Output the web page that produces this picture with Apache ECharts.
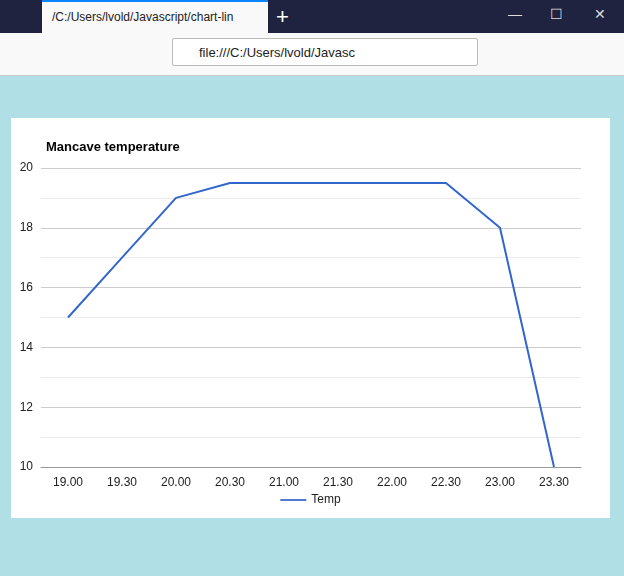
<html lang="en">
<head>
    <meta charset="UTF-8">
    <title>chart-line</title>
    <style>
        body { margin: 0; width: 624px; height: 576px; background: #b0dfe5; font-family: "Liberation Sans", Arial, sans-serif; position: relative; overflow: hidden; }
        #tabs { position: absolute; left: 0; top: 0; width: 624px; height: 33px; background: #202340; }
        #tab { position: absolute; left: 42px; top: 0; width: 226px; height: 33px; background: #f9f9fa; border-top: 2px solid #0a84ff; box-sizing: border-box; font-size: 12px; color: #222; line-height: 30px; padding-left: 10px; white-space: nowrap; overflow: hidden; }
        #plus { position: absolute; left: 276px; top: 4px; color: #fff; font-size: 22px; }
        .win { position: absolute; top: 6px; color: #ddd; font-size: 14px; }
        #toolbar { position: absolute; left: 0; top: 33px; width: 624px; height: 42px; background: #f9f9fa; border-bottom: 1px solid #ccc; }
        #url { position: absolute; left: 172px; top: 5px; width: 306px; height: 28px; border: 1px solid #bbb; border-radius: 2px; background: #fff; font-size: 13px; line-height: 28px; padding-left: 26px; box-sizing: border-box; color: #222; white-space: nowrap; overflow: hidden; }
        #panel { position: absolute; left: 11px; top: 118px; width: 599px; height: 400px; background: #fff; }
        #echart { width: 599px; height: 400px; }
    </style>
</head>
<body>
    <div id="tabs">
        <div id="tab">/C:/Users/lvold/Javascript/chart-lin</div>
        <div id="plus">+</div>
        <div class="win" style="left:508px">&#8212;</div>
        <div class="win" style="left:550px">&#9744;</div>
        <div class="win" style="left:594px">&#10005;</div>
    </div>
    <div id="toolbar">
        <div id="url">file:///C:/Users/lvold/Javasc</div>
    </div>
    <div id="panel"><div id="echart"></div></div>
    <script src="https://cdn.jsdelivr.net/npm/echarts@6/dist/echarts.min.js"></script>
    <script>
        const times = ['19.00', '19.30', '20.00', '20.30', '21.00', '21.30', '22.00', '22.30', '23.00', '23.30']
        const temps = [15, 17, 19, 19.5, 19.5, 19.5, 19.5, 19.5, 18, 10]

        const echart = echarts.init(document.getElementById('echart'))
        const font = { fontFamily: 'Liberation Sans', fontSize: 12, color: '#222' }

        echart.setOption({
            animation: false,
            title: {
                text: 'Mancave temperature',
                left: 30, top: 18,
                textStyle: { fontFamily: 'Liberation Sans', fontSize: 13, fontWeight: 'bold', color: '#000' }
            },
            legend: {
                bottom: 7, left: 'center',
                icon: 'path://M0,0 L30,0 L30,2 L0,2 Z',
                itemWidth: 26, itemHeight: 2,
                textStyle: font
            },
            grid: { left: 30, right: 29, top: 50, bottom: 51 },
            xAxis: {
                type: 'category',
                data: times,
                axisTick: { show: false },
                axisLine: { lineStyle: { color: '#999' } },
                axisLabel: Object.assign({ margin: 10 }, font)
            },
            yAxis: {
                type: 'value',
                min: 10, max: 20, interval: 2,
                axisLabel: Object.assign({ margin: 8 }, font),
                splitLine: { lineStyle: { color: '#ccc' } },
                minorTick: { show: false, splitNumber: 2 },
                minorSplitLine: { show: true, lineStyle: { color: '#ebebeb' } }
            },
            series: [{
                name: 'Temp',
                type: 'line',
                data: temps,
                showSymbol: false,
                symbol: 'none',
                lineStyle: { color: '#3366cc', width: 2 },
                itemStyle: { color: '#3366cc' }
            }]
        })
    </script>
</body>
</html>
